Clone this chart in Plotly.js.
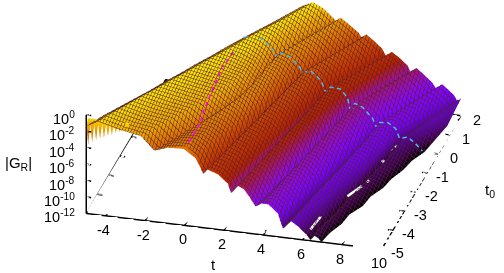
<!DOCTYPE html>
<html><head><meta charset="utf-8">
<script src="https://cdn.plot.ly/plotly-3.0.1.min.js"></script>
<style>html,body{margin:0;padding:0;background:#fff}#c{width:504px;height:273px}</style></head>
<body><div id="c"></div>
<script>
var tTicks=[-4,-2,0,2,4,6,8,10];
var t0Ticks=[-5,-4,-3,-2,-1,0,1,2];
var zTicks=[0,-2,-4,-6,-8,-10,-12];
var T0=[-5,-4.5,-4,-3.5,-3,-2.5,-2,-1.5,-1,-0.5,0,1,2];
var tGrid=[
[-5,-4.4,-3.25,-2.2,-1.54,-.9,-.05,.55,.95,1.15,1.7,2.2,2.37,2.7,3,3.4,3.6,3.9,4.25,4.75,5,5.4,5.8,6.2,6.4,6.5,6.65,6.8,6.95],
[-4.5,-3.9,-2.75,-1.7,-1,-.45,.15,.75,1.17,1.37,1.9,2.38,2.56,2.88,3.2,3.6,3.8,4.1,4.45,4.95,5.19,5.58,5.95,6.37,6.57,6.66,6.8,6.95,7.1],
[-4,-3.4,-2.25,-1.15,-.45,0,.5,1,1.38,1.58,2.1,2.58,2.75,3.07,3.4,3.8,3.99,4.28,4.65,5.13,5.37,5.75,6.15,6.55,6.74,6.87,7.02,7.2,7.4],
[-3.5,-2.9,-1.75,-.6,.1,.3,.85,1.3,1.6,1.8,2.3,2.77,2.94,3.25,3.6,4,4.19,4.47,4.85,5.32,5.56,5.92,6.32,6.72,6.91,7.03,7.18,7.35,7.5],
[-3,-2.4,-1.25,-.1,.6,.75,1.2,1.6,1.81,2.01,2.5,2.96,3.13,3.44,3.8,4.2,4.38,4.65,5.05,5.5,5.75,6.1,6.5,6.9,7.08,7.2,7.4,7.65,7.9],
[-2.5,-1.9,-.8,.3,1,1.15,1.5,1.85,2.03,2.23,2.7,3.15,3.32,3.62,4,4.4,4.58,4.84,5.25,5.7,5.94,6.28,6.68,7.07,7.25,7.37,7.55,7.8,8],
[-2,-1.4,-.35,.65,1.3,1.42,1.77,2.1,2.24,2.44,2.9,3.34,3.51,3.81,4.2,4.6,4.78,5,5.42,5.88,6.12,6.45,6.85,7.25,7.42,7.55,7.8,8.1,8.35],
[-1.5,-.9,0,.9,1.45,1.6,1.95,2.3,2.46,2.66,3.08,3.53,3.7,4,4.4,4.8,4.97,5.2,5.6,6.07,6.31,6.62,7,7.42,7.59,7.72,7.95,8.25,8.5],
[-1,-.4,.3,1.05,1.55,1.7,2.1,2.5,2.67,2.87,3.28,3.71,3.89,4.15,4.6,5,5.17,5.38,5.78,6.25,6.5,6.8,7.2,7.6,7.76,7.9,8.15,8.5,8.8],
[-.5,.1,.7,1.25,1.65,1.82,2.27,2.72,2.89,3.09,3.47,3.88,4.08,4.33,4.8,5.2,5.36,5.57,5.97,6.45,6.68,6.92,7.3,7.75,7.93,8.08,8.3,8.65,8.95],
[0,.55,1.05,1.5,1.8,1.97,2.45,2.93,3.1,3.3,3.65,4.05,4.28,4.5,5,5.4,5.56,5.76,6.16,6.67,6.87,7.03,7.44,7.84,8.1,8.3,8.55,8.96,9.3],
[1,1.55,2,2.42,2.72,2.9,3.38,3.86,4.05,4.25,4.62,5.05,5.25,5.5,5.95,6.35,6.5,6.72,7.12,7.6,7.8,7.98,8.35,8.75,9,9.2,9.45,9.7,9.9],
[2,2.5,3,3.4,3.7,3.9,4.35,4.8,5,5.2,5.6,6,6.2,6.5,6.9,7.3,7.45,7.75,8.1,8.55,8.75,9.05,9.35,9.65,9.8,9.85,9.9,9.95,10]];
var zGrid=[
[-1.36,-.6,-1.3,-1.75,-3.3,-2.8,-2.7,-3.65,-5.4,-4.85,-5.3,-6.3,-7.33,-6.4,-6.7,-7.9,-8.6,-8.2,-8.2,-9.2,-10.9,-9.9,-10.5,-11.3,-11.9,-11.3,-11.4,-11.6,-11.98],
[-1.2,-.5,-1.2,-1.6,-3.1,-2.7,-2.6,-3.5,-5.25,-4.75,-5.2,-6.2,-7.2,-6.3,-6.6,-7.8,-8.6,-8.1,-8.15,-9.15,-10.8,-9.8,-10.4,-11.2,-11.9,-11.3,-11.4,-11.6,-11.98],
[-1.2,-.45,-1.1,-1.5,-2.9,-2.65,-2.75,-3.5,-5.15,-4.65,-5.1,-6.05,-7.1,-6.2,-6.5,-7.7,-8.55,-8,-8.1,-9.1,-10.7,-9.7,-10.25,-11.1,-11.9,-11.3,-11.4,-11.6,-11.98],
[-1.2,-.4,-1,-1.45,-2.75,-2.4,-2.8,-3.5,-5,-4.55,-5,-5.95,-7,-6.1,-6.4,-7.6,-8.55,-7.85,-8.05,-9.05,-10.6,-9.6,-10.1,-11,-11.9,-11.3,-11.4,-11.6,-11.98],
[-1.2,-.4,-.9,-1.4,-2.65,-2.25,-2.7,-3.5,-4.9,-4.45,-4.9,-5.8,-6.85,-6,-6.3,-7.45,-8.5,-7.75,-8,-9,-10.4,-9.5,-10,-10.9,-11.8,-11.2,-11.3,-11.6,-11.98],
[-1.1,-.35,-.85,-1.3,-2.55,-2.15,-2.6,-3.5,-4.8,-4.35,-4.8,-5.7,-6.75,-5.9,-6.2,-7.35,-8.5,-7.65,-7.95,-8.95,-10.3,-9.45,-9.8,-10.7,-11.8,-11.2,-11.3,-11.6,-11.98],
[-1.1,-.35,-.8,-1.3,-2.5,-2.1,-2.5,-3.45,-4.65,-4.2,-4.65,-5.55,-6.6,-5.85,-6.1,-7.2,-8.45,-7.5,-7.85,-8.9,-10.2,-9.4,-9.65,-10.5,-11.7,-11.2,-11.3,-11.6,-11.98],
[-1,-.3,-.75,-1.35,-2.5,-2.05,-2.45,-3.45,-4.55,-4.1,-4.55,-5.4,-6.5,-5.75,-6,-7.1,-8.45,-7.4,-7.75,-8.85,-10.1,-9.3,-9.5,-10.3,-11.7,-11.1,-11.2,-11.5,-11.98],
[-1,-.3,-.7,-1.4,-2.5,-2,-2.4,-3.4,-4.4,-3.95,-4.35,-5.25,-6.4,-5.65,-5.85,-6.95,-8.4,-7.3,-7.65,-8.8,-10,-9.2,-9.3,-10.1,-11.6,-11.1,-11.2,-11.5,-11.98],
[-.9,-.3,-.7,-1.4,-2.5,-2,-2.4,-3.4,-4.3,-3.85,-4.15,-5.05,-6.3,-5.55,-5.7,-6.75,-8.4,-7.2,-7.55,-8.75,-9.85,-9.1,-9.1,-9.85,-11.5,-10.9,-11,-11.4,-11.98],
[-.9,-.3,-.66,-1.45,-2.56,-2,-2.36,-3.4,-4.15,-3.75,-4,-4.85,-6.15,-5.45,-5.55,-6.55,-8.37,-7.07,-7.45,-8.66,-9.7,-9.04,-8.92,-9.55,-10.9,-10.5,-10.85,-11.3,-11.98],
[-.95,-.4,-.95,-1.7,-2.5,-1.95,-2.55,-3.55,-4.1,-3.65,-4.15,-5.05,-6,-5.35,-5.75,-6.75,-7.8,-6.95,-7.5,-8.6,-9.3,-8.7,-8.95,-9.55,-10.6,-10,-10.2,-10.6,-10.9],
[-.9,-.38,-.95,-1.75,-2.4,-1.85,-2.6,-3.4,-4.05,-3.5,-4.2,-5,-5.9,-5.25,-5.9,-6.7,-7.5,-6.85,-7.5,-8.4,-9.1,-8.45,-9,-9.6,-10.2,-10.1,-10.1,-10,-9.9]];
var fringeT=[-5,-4.9,-4.8,-4.7,-4.6,-4.5,-4.4,-4.3,-4.2,-4.1,-4,-3.9,-3.8,-3.7,-3.6,-3.5,-3.4,-3.3,-3.2,-3.1,-3,-2.9];
var fringeTip=[-1.4,-3.65,-1.1,-3.3,-1,-3,-.9,-2.8,-.8,-2.6,-.8,-2.3,-.8,-2.1,-.8,-1.8,-.8,-1.6,-.85,-1.4,-.85,-1.2];
var holeT=[6.3,6.45,null,6.65,6.72,null,7.12,7.52,null,7.64,7.7,null,7.79,7.85,null,7.85,7.9,null,7.96,8.01];
var holeT0=[-4.85,-4.04,null,-3.55,-3.43,null,-3.01,-2.43,null,-2.2,-2.1,null,-1.13,-1.03,null,-.49,-.39,null,-.32,-.22];
var magT0=[-5,-4.6,-4.1,-3.72,-3.62,-3.35,-2.56,-1.67,-.34];
var magZ=[-2.72,-2.7,-2.69,-2.76,-2.67,-2.02,-1.16,-.53,-1.05];
var cyanT=[.1,.62,1.08,1.48,1.8,1.94,2.45,2.96,3.1,3.52,4.03,4.28,4.53,5.05,5.4,5.56,5.76,6.16,6.67,6.87,7.03,7.44,7.84,8.04,8.45,8.85,9.2];
var cyanZ=[-.71,-.3,-.66,-1.4,-2.56,-2,-2.36,-3.45,-4.15,-3.78,-4.74,-6.15,-5.45,-5.55,-6.55,-8.37,-7.07,-7.45,-8.66,-9.7,-9.04,-8.92,-9.55,-10.7,-10.4,-11.1,-11.9];
var palette=[[0,'rgb(0,0,0)'],[.05,'rgb(57,0,79)'],[.1,'rgb(81,0,150)'],[.15,'rgb(99,1,206)'],[.2,'rgb(114,2,243)'],[.25,'rgb(128,4,255)'],[.3,'rgb(140,7,243)'],[.35,'rgb(151,11,206)'],[.4,'rgb(161,16,150)'],[.45,'rgb(171,23,79)'],[.5,'rgb(180,32,0)'],[.6,'rgb(198,55,0)'],[.7,'rgb(213,87,0)'],[.8,'rgb(228,131,0)'],[.9,'rgb(242,186,0)'],[1,'rgb(255,255,0)']];
var F='"Liberation Sans",Arial,sans-serif';
var yGrid=T0.map(function(v){return tGrid[0].map(function(){return v})});
var flat={ambient:1,diffuse:0,specular:0,roughness:1,fresnel:0};
var meshColor='rgb(80,35,45)';
var mesh={x:{show:true,start:-5,end:10,size:.14,color:meshColor,width:1},y:{show:true,start:-5,end:2,size:.14,color:meshColor,width:1}};
// cut a read-off polyline into on/off dashes of a given on-screen length (line style only)
function dashed(xs,ys,zs,on,off){
  var X=[],Y=[],Z=[],pos=0,period=on+off;
  for(var i=0;i+1<xs.length;i++){
    var dx=xs[i+1]-xs[i],dy=ys[i+1]-ys[i],dz=zs[i+1]-zs[i];
    var len=Math.hypot(19.7*dx+11.3*dy,2.4*dx-19*dy-8.08*dz);
    var s=0;
    while(s<len){
      var phase=pos%period,isOn=phase<on,left=(isOn?on:period)-phase,step=Math.min(left,len-s);
      if(isOn){var a=s/len,b=(s+step)/len;
        X.push(xs[i]+dx*a,xs[i]+dx*b);Y.push(ys[i]+dy*a,ys[i]+dy*b);Z.push(zs[i]+dz*a,zs[i]+dz*b);
        if(step===left){X.push(null);Y.push(null);Z.push(null)}}
      s+=step;pos+=step;
    }
  }
  return {x:X,y:Y,z:Z};
}
// nudge a line toward the viewer so it stays on top of the surface without moving on screen
var near={t:.124,t0:-.215,z:.536};
function toViewer(p){return {
  x:p.x.map(function(v){return v===null?null:v+near.t}),
  y:p.y.map(function(v){return v===null?null:Math.max(-5,v+near.t0)}),
  z:p.z.map(function(v){return v===null?null:v+near.z})}}
var mag=toViewer(dashed(magT0.map(function(){return 0}),magT0,magZ,4.5,3.5));
var cya=toViewer(dashed(cyanT,cyanT.map(function(){return 0}),cyanZ,4.5,3.5));
var traces=[
 {type:'surface',x:tGrid,y:yGrid,z:zGrid,cmin:-12,cmax:0,showscale:false,colorscale:palette,lighting:flat,contours:mesh,hoverinfo:'skip'},
 {type:'surface',x:fringeT,y:[-5,-4.85],z:[fringeTip,fringeT.map(function(){return -.75})],cmin:-12,cmax:0,showscale:false,colorscale:palette,lighting:flat,hoverinfo:'skip'},
 {type:'scatter3d',mode:'lines',x:[-5,10,10,-5,-5,-5],y:[-5,-5,2,2,-5,-5],z:[-12,-12,-12,-12,-12,0],line:{color:'#000',width:3},hoverinfo:'skip'},
 {type:'scatter3d',mode:'lines',x:mag.x,y:mag.y,z:mag.z,connectgaps:false,line:{color:'#ff00ff',width:3},hoverinfo:'skip'},
 {type:'scatter3d',mode:'lines',x:cya.x,y:cya.y,z:cya.z,connectgaps:false,line:{color:'#56b4e9',width:3},hoverinfo:'skip'},
 {type:'scatter3d',mode:'lines',x:holeT,y:holeT0,z:holeT.map(function(v){return v===null?null:-11}),connectgaps:false,line:{color:'#fff',width:5},hoverinfo:'skip'}
];
var tx=[],ty=[],tz=[];
function seg(a,b,c,d,e,f){tx.push(a,d,null);ty.push(b,e,null);tz.push(c,f,null)}
tTicks.forEach(function(v){seg(v,-5,-12,v,-4.75,-12);seg(v,2,-12,v,1.75,-12)});
t0Ticks.forEach(function(v){seg(-5,v,-12,-4.75,v,-12);seg(10,v,-12,9.75,v,-12)});
zTicks.forEach(function(v){seg(-5,-5,v,-4.75,-5,v)});
traces.push({type:'scatter3d',mode:'lines',x:tx,y:ty,z:tz,line:{color:'#000',width:3},connectgaps:false,hoverinfo:'skip'});
var font={family:F,size:14.5,color:'#000'};
var ann=[];
tTicks.forEach(function(v){ann.push({x:v,y:-5,z:-12,text:String(v),showarrow:false,xshift:-2,yshift:-14,font:font})});
t0Ticks.forEach(function(v){ann.push({x:10,y:v,z:-12,text:String(v),showarrow:false,xshift:16,yshift:-4,font:font})});
zTicks.forEach(function(v){ann.push({x:-5,y:-5,z:v,text:'10<sup>'+v+'</sup>',showarrow:false,xanchor:'right',xshift:-9,yshift:-3,font:font})});
var c={x:-.1343,y:-.109,z:-.1386},d={x:.2316,y:-.861,z:.453};
function title(x,y,text){return {xref:'paper',yref:'paper',x:x/504,y:1-y/273,xanchor:'center',yanchor:'middle',text:text,showarrow:false,font:{family:F,size:15,color:'#000'}}}
Plotly.newPlot('c',traces,{width:504,height:273,margin:{l:0,r:0,t:0,b:0},showlegend:false,paper_bgcolor:'#fff',
 annotations:[title(213,264,'t'),title(490,190,'t<sub>0</sub>'),title(18,163,'|G<sub>R</sub>|')],
 scene:{domain:{x:[0,1],y:[0,1]},aspectmode:'manual',aspectratio:{x:2.24,y:2.24,z:0.81},
  camera:{projection:{type:'orthographic'},up:{x:0,y:0,z:1},center:c,eye:{x:c.x+d.x,y:c.y+d.y,z:c.z+d.z}},
  xaxis:{range:[-5,10],visible:false},yaxis:{range:[-5,2],visible:false},zaxis:{range:[-12,0],visible:false},annotations:ann}},
 {displayModeBar:false});
</script></body></html>
